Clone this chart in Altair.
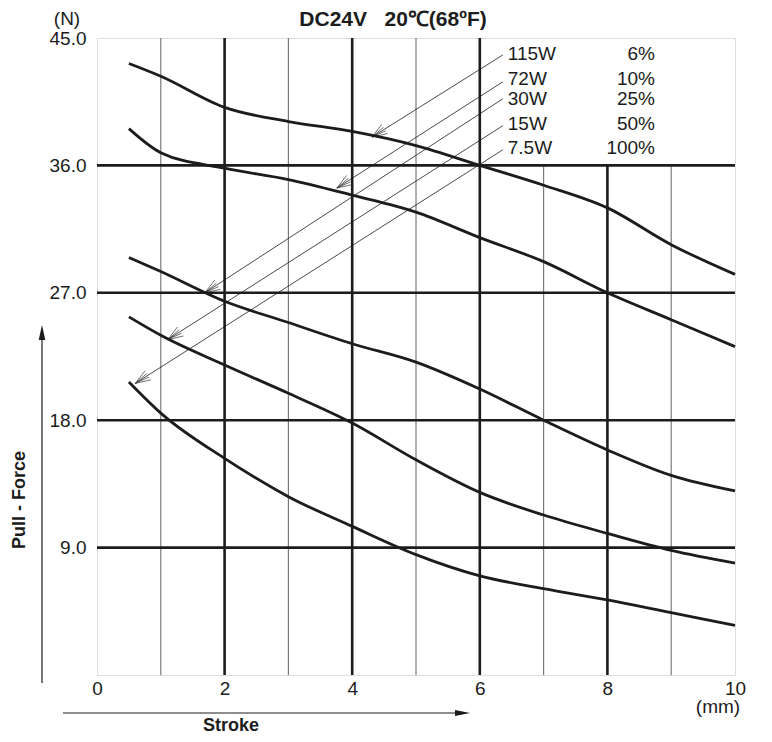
import altair as alt
import pandas as pd

# ---- data ----
stroke_mm = [0.5, 1, 2, 3, 4, 5, 6, 7, 8, 9, 10]
force_115w = [43.2, 42.3, 40.1, 39.1, 38.4, 37.4, 36.0, 34.6, 33.0, 30.4, 28.3]
force_72w = [38.6, 36.9, 35.8, 35.0, 33.9, 32.7, 30.9, 29.2, 27.0, 25.1, 23.2]
force_30w = [29.5, 28.5, 26.4, 24.9, 23.4, 22.1, 20.2, 18.0, 15.9, 14.1, 13.0]
force_15w = [25.3, 24.0, 21.9, 19.9, 17.8, 15.2, 12.9, 11.3, 10.0, 8.8, 7.9]
force_7_5w = [20.7, 18.5, 15.3, 12.6, 10.5, 8.5, 7.0, 6.1, 5.3, 4.4, 3.5]

series_names = ["115W", "72W", "30W", "15W", "7.5W"]
duty_labels = ["6%", "10%", "25%", "50%", "100%"]
series_values = [force_115w, force_72w, force_30w, force_15w, force_7_5w]

# legend label anchor positions and arrow tips (data units)
label_x = [6.36, 6.36, 6.36, 6.36, 6.36]
label_y = [43.8, 41.9, 40.7, 38.8, 37.1]
text_y = [43.9, 42.1, 40.7, 38.9, 37.2]
tip_x = [4.31, 3.76, 1.69, 1.11, 0.60]
tip_y = [38.0, 34.4, 27.0, 23.7, 20.6]

x_ticks = [0, 2, 4, 6, 8, 10]
y_ticks = [9, 18, 27, 36, 45]
minor_x = [1, 3, 5, 7, 9]
minor_top = [45, 45, 45, 36, 36]
major_x = [2, 4, 6, 8]
major_top = [45, 45, 45, 36]
h_lines = [9, 18, 27, 36]

FONT = "Liberation Sans"
INK = "#1c1c1c"

curves = pd.DataFrame(
    [
        {"series": n, "stroke": x, "force": v}
        for n, vals in zip(series_names, series_values)
        for x, v in zip(stroke_mm, vals)
    ]
)
leg = pd.DataFrame(
    {
        "name": series_names,
        "duty": duty_labels,
        "lx": label_x,
        "ly": label_y,
        "ty": text_y,
        "tx": tip_x,
        "tipy": tip_y,
    }
)
minor_df = pd.DataFrame({"x": minor_x, "y0": [0] * 5, "top": minor_top})
major_df = pd.DataFrame({"x": major_x, "y0": [0] * 4, "top": major_top})
h_df = pd.DataFrame({"y": h_lines, "x0": [0] * 4, "x1": [10] * 4})
one = pd.DataFrame({"a": [0]})

xs = alt.Scale(domain=[0, 10], nice=False)
ys = alt.Scale(domain=[0, 45], nice=False)

x_axis = alt.Axis(
    values=x_ticks, format="d", ticks=False, domain=False, grid=False,
    labelPadding=4, labelFontSize=19, labelFont=FONT, labelColor=INK,
    labelFlush=False, labelOverlap=False, title=None,
)
y_axis = alt.Axis(
    values=y_ticks, format=".1f", ticks=False, domain=False, grid=False,
    labelPadding=11, labelFontSize=19, labelFont=FONT, labelColor=INK,
    labelFlush=False, labelOverlap=False, title=None,
)

minor = alt.Chart(minor_df).mark_rule(color="#7a7a7a", strokeWidth=1.2).encode(
    x=alt.X("x:Q", scale=xs, axis=x_axis),
    y=alt.Y("y0:Q", scale=ys, axis=y_axis),
    y2="top:Q",
)
major = alt.Chart(major_df).mark_rule(color=INK, strokeWidth=2.6).encode(
    x=alt.X("x:Q", scale=xs, axis=x_axis), y=alt.Y("y0:Q", scale=ys, axis=y_axis),
    y2="top:Q",
)
horiz = alt.Chart(h_df).mark_rule(color=INK, strokeWidth=2.6).encode(
    y=alt.Y("y:Q", scale=ys, axis=y_axis), x=alt.X("x0:Q", scale=xs, axis=x_axis),
    x2="x1:Q",
)
lines = alt.Chart(curves).mark_line(
    color=INK, strokeWidth=2.8, interpolate="monotone"
).encode(
    x=alt.X("stroke:Q", scale=xs, axis=x_axis),
    y=alt.Y("force:Q", scale=ys, axis=y_axis),
    detail="series:N",
)
leaders = alt.Chart(leg).mark_rule(color=INK, strokeWidth=0.8).encode(
    x=alt.X("lx:Q", scale=xs, axis=x_axis), y=alt.Y("ly:Q", scale=ys, axis=y_axis),
    x2="tx:Q", y2="tipy:Q",
)
heads = alt.Chart(leg).mark_point(
    shape="M -1 -0.36 L 0 0 L -1 0.36 M -1 -0.14 L 0 0 L -1 0.14",
    size=900, angle=147.5, filled=False, color=INK, strokeWidth=0.8,
).encode(
    x=alt.X("tx:Q", scale=xs, axis=x_axis), y=alt.Y("tipy:Q", scale=ys, axis=y_axis)
)
names = alt.Chart(leg).mark_text(
    align="left", baseline="middle", dx=5, fontSize=19, font=FONT, color=INK
).encode(
    x=alt.X("lx:Q", scale=xs, axis=x_axis), y=alt.Y("ty:Q", scale=ys, axis=y_axis),
    text="name:N",
)
duties = alt.Chart(leg).mark_text(
    align="right", baseline="middle", fontSize=19, font=FONT, color=INK
).encode(x=alt.value(558), y=alt.Y("ty:Q", scale=ys, axis=y_axis), text="duty:N")


def label(txt, x, y, size=19, weight="normal", angle=0, align="center"):
    return alt.Chart(one).mark_text(
        text=txt, fontSize=size, fontWeight=weight, font=FONT, color=INK,
        angle=angle, align=align, baseline="middle",
    ).encode(x=alt.value(x), y=alt.value(y))


title = label("DC24V\u00a0\u00a0\u00a020℃(68ºF)", 296, -18, size=21, weight="bold")
unit_n = label("(N)", -30, -19)
unit_mm = label("(mm)", 621, 669, size=19)
pull = label("Pull - Force", -77, 462, size=18, weight="bold", angle=270)
stroke_t = label("Stroke", 134, 688, size=18, weight="bold")

v_arrow = alt.Chart(one).mark_rule(color=INK, strokeWidth=1.2).encode(
    x=alt.value(-55), y=alt.value(645), y2=alt.value(292)
)
v_head = alt.Chart(one).mark_point(
    shape="M 0 0 L -0.22 1 L 0.22 1 Z", size=900, filled=True, color=INK,
    opacity=1,
).encode(x=alt.value(-55), y=alt.value(287))
h_arrow = alt.Chart(one).mark_rule(color=INK, strokeWidth=1.2).encode(
    x=alt.value(-34), x2=alt.value(368), y=alt.value(675)
)
h_head = alt.Chart(one).mark_point(
    shape="M 0 0 L -1 -0.2 L -1 0.2 Z", size=900, filled=True, color=INK,
    opacity=1,
).encode(x=alt.value(373), y=alt.value(675))

chart = (
    alt.layer(
        minor, major, horiz, lines, leaders, heads, names, duties,
        title, unit_n, unit_mm, pull, stroke_t, v_arrow, v_head, h_arrow, h_head,
    )
    .properties(
        width=638, height=637,
        autosize=alt.AutoSizeParams(type="none"),
        padding={"left": 89, "top": 30, "right": 29, "bottom": 59},
    )
    .configure_view(stroke=INK, strokeWidth=3)
    .configure(background="white")
)

chart.save("out.html", embed_options={"renderer": "svg", "actions": False})
